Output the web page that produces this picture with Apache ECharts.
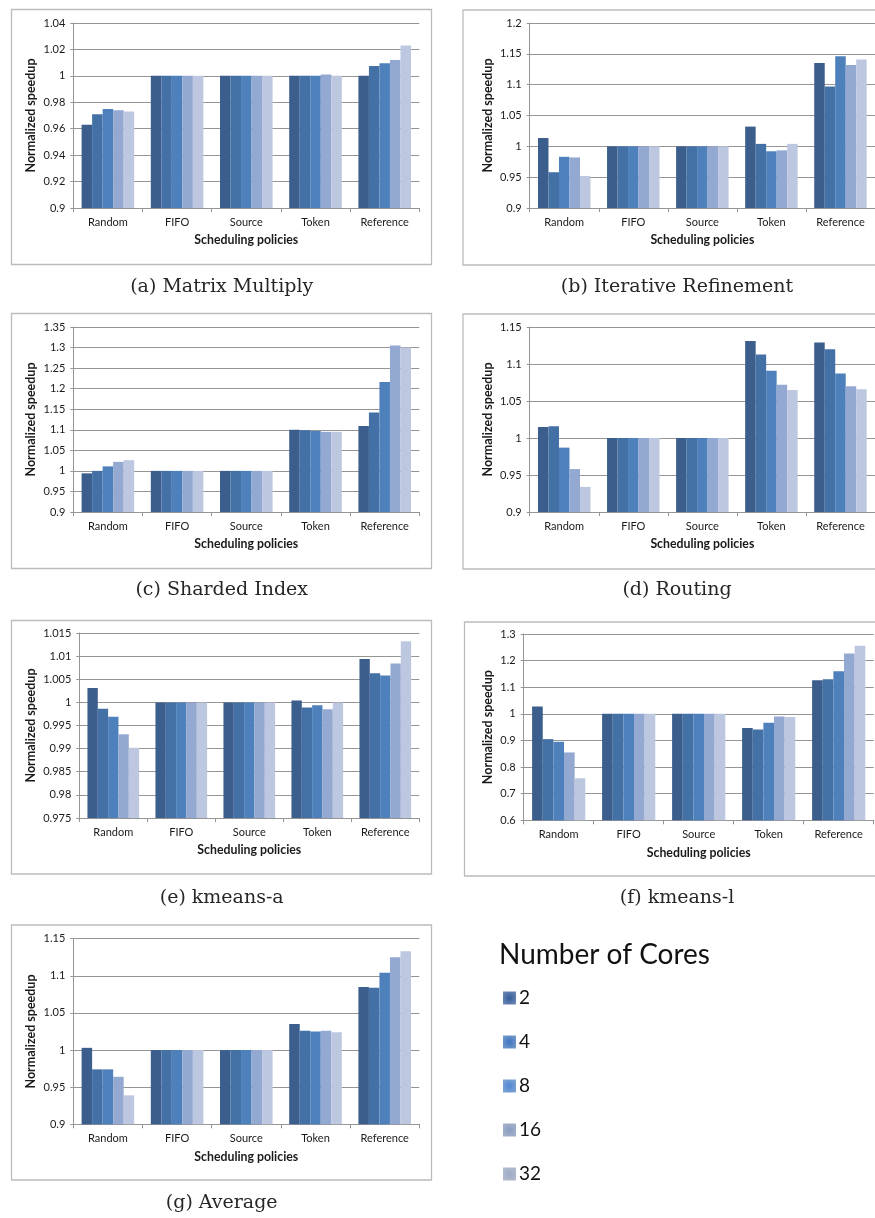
<!DOCTYPE html>
<html>
<head>
<meta charset="utf-8">
<script src="https://cdn.jsdelivr.net/npm/echarts@6/dist/echarts.min.js"></script>
<style>
  html, body { margin: 0; padding: 0; background: #fff; }
  #chart { width: 875px; height: 1218px; }
</style>
</head>
<body>
<div id="chart"></div>
<script>
// Scheduling policies on the x axis of every panel
const policies = ['Random', 'FIFO', 'Source', 'Token', 'Reference'];
// Core counts (one bar series each)
const coreCounts = ['2', '4', '8', '16', '32'];
const coreColors = ['#3b5e8c', '#4371a6', '#4e80bc', '#94a9d1', '#bdc8e0'];

// Normalized speedup; rows = core counts 2,4,8,16,32, columns = policies
const matrixMultiply = [
  [0.963, 1, 1, 1,     1.000],
  [0.971, 1, 1, 1,     1.0075],
  [0.975, 1, 1, 1,     1.0095],
  [0.974, 1, 1, 1.001, 1.012],
  [0.973, 1, 1, 1,     1.023]
];
const iterativeRefinement = [
  [1.0135, 1, 1, 1.032,  1.135],
  [0.958,  1, 1, 1.004,  1.097],
  [0.983,  1, 1, 0.992,  1.146],
  [0.982,  1, 1, 0.9935, 1.132],
  [0.952,  1, 1, 1.004,  1.141]
];
const shardedIndex = [
  [0.994, 1, 1, 1.100, 1.109],
  [1.000, 1, 1, 1.099, 1.142],
  [1.011, 1, 1, 1.097, 1.216],
  [1.022, 1, 1, 1.095, 1.305],
  [1.026, 1, 1, 1.095, 1.300]
];
const routing = [
  [1.015, 1, 1, 1.131, 1.129],
  [1.016, 1, 1, 1.113, 1.120],
  [0.987, 1, 1, 1.091, 1.087],
  [0.958, 1, 1, 1.072, 1.070],
  [0.934, 1, 1, 1.065, 1.066]
];
const kmeansA = [
  [1.0031, 1, 1, 1.0004, 1.0094],
  [0.9986, 1, 1, 0.9989, 1.0063],
  [0.9969, 1, 1, 0.9994, 1.0058],
  [0.9931, 1, 1, 0.9985, 1.0084],
  [0.9902, 1, 1, 1.0000, 1.0132]
];
const kmeansL = [
  [1.028, 1, 1, 0.947, 1.126],
  [0.905, 1, 1, 0.941, 1.130],
  [0.895, 1, 1, 0.967, 1.160],
  [0.855, 1, 1, 0.990, 1.227],
  [0.758, 1, 1, 0.988, 1.256]
];
const average = [
  [1.003, 1, 1, 1.035, 1.085],
  [0.974, 1, 1, 1.026, 1.084],
  [0.974, 1, 1, 1.025, 1.104],
  [0.964, 1, 1, 1.026, 1.125],
  [0.939, 1, 1, 1.024, 1.133]
];

// Panel captions and y-axis ranges, in panel order (a)..(g)
const captions = ['(a) Matrix Multiply', '(b) Iterative Refinement', '(c) Sharded Index',
                  '(d) Routing', '(e) kmeans-a', '(f) kmeans-l', '(g) Average'];
const yMin  = [0.9,  0.9,  0.9,  0.9,  0.975, 0.6, 0.9];
const yMax  = [1.04, 1.2,  1.35, 1.15, 1.015, 1.3, 1.15];
const yStep = [0.02, 0.05, 0.05, 0.05, 0.005, 0.1, 0.05];

const panelData = [matrixMultiply, iterativeRefinement, shardedIndex, routing, kmeansA, kmeansL, average];

// Layout of each panel: frame box, plot area, caption centre, y-title gap
const layout = [
  { frame: [11.5, 9.5, 420, 255],   plot: [73.3, 23, 346, 185],     cap: [221.7, 287],  yGap: 35.5 },
  { frame: [463, 10, 430, 255],     plot: [529.7, 23, 345.3, 185],  cap: [677, 287],    yGap: 35 },
  { frame: [11.5, 313.5, 420, 255], plot: [73.3, 327, 346, 185],    cap: [221.7, 590],  yGap: 35.5 },
  { frame: [463, 314, 430, 255],    plot: [529.7, 327, 345.3, 185], cap: [677, 590],    yGap: 35 },
  { frame: [11.5, 620.5, 420, 253.5], plot: [79.3, 633, 340, 185],  cap: [221.7, 898],  yGap: 41.5 },
  { frame: [464.5, 622, 430, 254],  plot: [523.7, 634, 350, 186.3], cap: [677, 898],    yGap: 29 },
  { frame: [11.5, 925, 420, 255],   plot: [73.3, 938.7, 346, 185.6], cap: [221.7, 1203], yGap: 35.5 }
];

const uiFont = 'Lato, "Open Sans", sans-serif';
const textColor = '#1a1a1a';
const lineColor = '#959595';

const grids = [], xAxes = [], yAxes = [], series = [], graphics = [];

layout.forEach((p, i) => {
  grids.push({ left: p.plot[0], top: p.plot[1], width: p.plot[2], height: p.plot[3], containLabel: false });

  xAxes.push({
    type: 'category', gridIndex: i, data: policies,
    axisLine: { lineStyle: { color: lineColor, width: 1 } },
    axisTick: { show: true, length: 4, lineStyle: { color: lineColor } },
    axisLabel: { fontFamily: uiFont, fontSize: 11, color: textColor, margin: 8.5 },
    name: 'Scheduling policies', nameLocation: 'middle', nameGap: 26.5,
    nameTextStyle: { fontFamily: uiFont, fontSize: 12.3, fontWeight: 'bold', color: textColor }
  });

  yAxes.push({
    type: 'value', gridIndex: i, min: yMin[i], max: yMax[i], interval: yStep[i],
    axisLine: { show: true, lineStyle: { color: lineColor, width: 1 } },
    axisTick: { show: true, length: 3, lineStyle: { color: lineColor } },
    splitLine: { lineStyle: { color: lineColor, width: 1.2 } },
    axisLabel: { fontFamily: uiFont, fontSize: 11, color: textColor, margin: 8 },
    name: 'Normalized speedup', nameLocation: 'middle', nameRotate: 90, nameGap: p.yGap,
    nameTextStyle: { fontFamily: uiFont, fontSize: 12.5, fontWeight: 'bold', color: textColor }
  });

  panelData[i].forEach((row, j) => {
    series.push({
      type: 'bar', name: coreCounts[j], xAxisIndex: i, yAxisIndex: i,
      data: row, barGap: '0%', barCategoryGap: '24%',
      itemStyle: { color: coreColors[j] },
      emphasis: { disabled: true }
    });
  });

  // panel frame
  graphics.push({
    type: 'rect', z: -1, silent: true,
    shape: { x: p.frame[0], y: p.frame[1], width: p.frame[2], height: p.frame[3] },
    style: { fill: 'none', stroke: '#bcbcbc', lineWidth: 1.3 }
  });
  // caption under the panel
  graphics.push({
    type: 'text', silent: true, x: p.cap[0], y: p.cap[1],
    style: {
      text: captions[i], font: '19px "DejaVu Serif", serif', fill: '#262626',
      align: 'center', verticalAlign: 'middle'
    }
  });
});

// bevelled legend swatches
const legendSwatch = ['#2f5590', '#3a6cb0', '#4a7cc0', '#7d8fb0', '#8f9cb6'];
const legendData = coreCounts.map((c, j) => ({
  name: c,
  itemStyle: {
    color: {
      type: 'radial', x: 0.5, y: 0.5, r: 0.75,
      colorStops: [
        { offset: 0, color: echarts.color.lift(legendSwatch[j], -0.1) },
        { offset: 1, color: echarts.color.lift(legendSwatch[j], 0.35) }
      ]
    }
  }
}));

const chart = echarts.init(document.getElementById('chart'), null, { renderer: 'canvas' });
chart.setOption({
  backgroundColor: '#ffffff',
  animation: false,
  title: {
    text: 'Number of Cores', left: 494, top: 936,
    textStyle: { fontFamily: uiFont, fontSize: 28, fontWeight: 'normal', color: '#111' }
  },
  legend: {
    orient: 'vertical', left: 498, top: 983,
    itemWidth: 13, itemHeight: 13, itemGap: 24, selectedMode: false,
    icon: 'rect',
    textStyle: { fontFamily: uiFont, fontSize: 19, color: '#111', lineHeight: 20, padding: [0, 0, 0, -2] },
    data: legendData
  },
  grid: grids,
  xAxis: xAxes,
  yAxis: yAxes,
  series: series,
  graphic: graphics
});
</script>
</body>
</html>
